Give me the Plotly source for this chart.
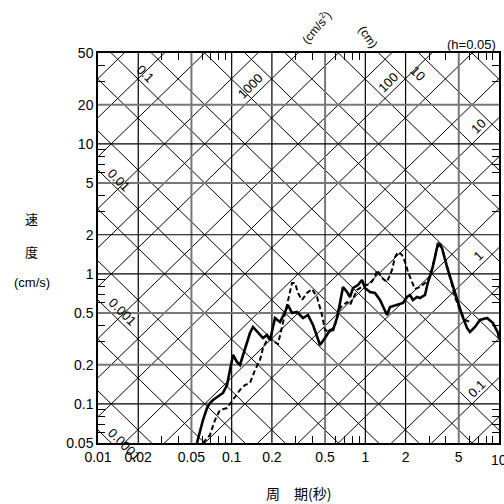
import numpy as np
import plotly.graph_objects as go

# ---- data ----
period_solid = [0.0550, 0.0579, 0.0610, 0.0654, 0.0688, 0.0725, 0.0777, 0.0861, 0.0923, 0.0972,
                0.1023, 0.1096, 0.1154, 0.1237, 0.1302, 0.1371, 0.1444, 0.1574, 0.1716, 0.1838,
                0.1936, 0.2110, 0.2299, 0.2506, 0.2639, 0.2828, 0.3082, 0.3418, 0.3725, 0.4060,
                0.4350, 0.4580, 0.4993, 0.5440, 0.5731, 0.6138, 0.6463, 0.6808, 0.7294, 0.7679,
                0.8086, 0.8814, 0.9441, 0.9942, 1.0837, 1.181, 1.287, 1.356, 1.453, 1.530,
                1.726, 1.913, 2.050, 2.158, 2.273, 2.435, 2.564, 2.795, 2.944, 3.154,
                3.321, 3.498, 3.747, 4.083, 4.450, 4.851, 5.287, 5.762, 6.067, 6.613,
                7.207, 8.134, 9.016, 9.827, 10.0]
velocity_solid = [0.050, 0.0630, 0.0751, 0.0929, 0.1016, 0.1071, 0.1129, 0.1213, 0.1397, 0.1888,
                  0.2376, 0.2100, 0.1991, 0.2506, 0.2938, 0.3509, 0.3902, 0.3571, 0.3210, 0.3386,
                  0.3100, 0.4575, 0.4264, 0.5088, 0.5760, 0.5000, 0.5088, 0.4575, 0.4826, 0.4043,
                  0.3268, 0.2836, 0.3210, 0.3700, 0.3700, 0.4575, 0.5970, 0.7924, 0.7253, 0.6640,
                  0.7786, 0.8210, 0.8971, 0.7786, 0.7253, 0.7125, 0.6295, 0.5561, 0.4826, 0.5561,
                  0.5760, 0.5970, 0.6640, 0.6880, 0.6295, 0.6640, 0.6523, 0.6880, 0.8660, 1.071,
                  1.348, 1.728, 1.581, 1.129, 0.8507, 0.6295, 0.4826, 0.3834, 0.3571, 0.3902,
                  0.4417, 0.4575, 0.4189, 0.3509, 0.3210]

period_dash = [0.0610, 0.0688, 0.0750, 0.0818, 0.0923, 0.1023, 0.1154, 0.1258, 0.1371, 0.1495,
               0.1629, 0.1716, 0.1870, 0.2038, 0.2222, 0.2380, 0.2594, 0.2828, 0.2977, 0.3135,
               0.3359, 0.3662, 0.3990, 0.4350, 0.4741, 0.4993, 0.5440, 0.5929, 0.6463, 0.7294,
               0.7679, 0.8664, 0.9605, 1.0837, 1.181, 1.222, 1.333, 1.453, 1.583, 1.667,
               1.755, 1.881, 1.981, 2.086, 2.234, 2.352, 2.564, 2.795, 3.046, 3.208,
               3.437, 3.620, 3.945, 4.300, 4.687, 5.108, 5.568, 6.067]
velocity_dash = [0.050, 0.0576, 0.0751, 0.0897, 0.0929, 0.1071, 0.1279, 0.1397, 0.1447, 0.1822,
                 0.2175, 0.2690, 0.3210, 0.3045, 0.2887, 0.3902, 0.5760, 0.8507, 0.8507, 0.7125,
                 0.6295, 0.7125, 0.7647, 0.6640, 0.4826, 0.3700, 0.3571, 0.4043, 0.5464, 0.6077,
                 0.5760, 0.7512, 0.8066, 0.8357, 0.9460, 1.071, 0.9294, 0.8660, 1.071, 1.348,
                 1.473, 1.397, 1.234, 1.034, 0.8660, 0.7647, 0.7924, 0.8507, 0.9460, 1.170,
                 1.581, 1.728, 1.325, 0.9460, 0.6640, 0.5275, 0.4417, 0.4264]

x_ticks = [0.01, 0.02, 0.05, 0.1, 0.2, 0.5, 1, 2, 5, 10]
x_ticktext = ["0.01", "0.02", "0.05", "0.1", "0.2", "0.5", "1", "2", "5", "10"]
y_ticks = [0.05, 0.1, 0.2, 0.5, 1, 2, 5, 10, 20, 50]
y_ticktext = ["0.05", "0.1", "0.2", "0.5", "1", "2", "5", "10", "20", "50"]

x_grid = [0.02, 0.05, 0.1, 0.2, 0.5, 1, 2, 5]
y_grid = [0.1, 0.2, 0.5, 1, 2, 5, 10, 20]
x_grid_gray = [0.05, 0.5, 5]
y_grid_gray = [0.2, 0.5, 5, 20]

mant = [1, 2, 5]
disp_values = [m * 10.0 ** k for k in range(-6, 4) for m in mant]      # cm
acc_values = [m * 10.0 ** k for k in range(-3, 7) for m in mant]       # cm/s^2

disp_labels = [("0.1", 0.1172, 0.9462), ("0.01", 0.0499, 0.6744), ("0.001", 0.0599, 0.3359),
               ("0.0001", 0.0648, -0.0051), ("10", 0.798, 0.9487)]
acc_labels = [("1000", 0.3815, 0.9154), ("100", 0.7232, 0.9256), ("10", 0.9476, 0.8128),
              ("1", 0.950, 0.4795), ("0.1", 0.945, 0.1385)]

minor_mult = [3, 4, 6, 7, 8, 9]
x_minor = [m * 10.0 ** k for k in range(-2, 1) for m in minor_mult]
y_minor = [m * 10.0 ** k for k in range(-2, 2) for m in minor_mult if 0.05 < m * 10.0 ** k < 50]

XR = (0.01, 10)
YR = (0.05, 50)
FONT = "Liberation Sans, Arial, sans-serif"
CJK = "Noto Sans CJK JP, Noto Sans CJK SC, sans-serif"

fig = go.Figure()

# diagonal grid: displacement lines (slope -1) and acceleration lines (slope +1)
tt = np.array([1e-4, 1e3])
for d in disp_values:
    fig.add_trace(go.Scatter(x=tt, y=2 * np.pi * d / tt, mode="lines",
                             line=dict(color="#000", width=1), hoverinfo="skip", showlegend=False))
for a in acc_values:
    fig.add_trace(go.Scatter(x=tt, y=a * tt / (2 * np.pi), mode="lines",
                             line=dict(color="#000", width=1), hoverinfo="skip", showlegend=False))

# rectangular grid
for xv in x_grid:
    gray = xv in x_grid_gray
    fig.add_trace(go.Scatter(x=[xv, xv], y=list(YR), mode="lines",
                             line=dict(color="#777" if gray else "#000", width=2 if gray else 1.2),
                             hoverinfo="skip", showlegend=False))
for yv in y_grid:
    gray = yv in y_grid_gray
    fig.add_trace(go.Scatter(x=list(XR), y=[yv, yv], mode="lines",
                             line=dict(color="#777" if gray else "#000", width=2 if gray else 1.2),
                             hoverinfo="skip", showlegend=False))

# spectra
fig.add_trace(go.Scatter(x=period_dash, y=velocity_dash, mode="lines",
                         line=dict(color="black", width=2, dash="5px,3px"), showlegend=False))
fig.add_trace(go.Scatter(x=period_solid, y=velocity_solid, mode="lines",
                         line=dict(color="black", width=2.6), showlegend=False))


def label(txt, x, y, angle=0, size=13, family=FONT, xanchor="center"):
    return dict(text=txt, x=x, y=y, xref="paper", yref="paper", showarrow=False,
                xanchor=xanchor, yanchor="middle", textangle=angle,
                font=dict(family=family, size=size, color="black"))


ann = []
for txt, x, y in disp_labels:
    ann.append(label(txt, x, y, angle=45, size=13))
for txt, x, y in acc_labels:
    ann.append(label(txt, x, y, angle=-45, size=13))
ann += [
    label("(h=0.05)", 0.9975, 1.023, size=13, xanchor="right"),
    label("(cm/s<sup>2</sup>)", 0.5436, 1.0667, angle=-50, size=12),
    label("(cm)", 0.6733, 1.041, angle=55, size=12),
    label("速", -0.1646, 0.5769, family=CJK, size=13),
    label("度", -0.1646, 0.4923, family=CJK, size=13),
    label("(cm/s)", -0.1646, 0.4128, size=13),
    label("周　期(秒)", 0.5012, -0.1282, family=CJK, size=14),
    # last x tick label, partly beyond the page edge as in the original
    label(x_ticktext[-1], 1.0, -0.0436, size=14),
]

axis_common = dict(type="log", showgrid=False, zeroline=False, showline=True, linecolor="black",
                   linewidth=1.5, mirror="allticks", ticks="inside", ticklen=0, tickcolor="black",
                   tickfont=dict(family=FONT, size=14, color="black"))

fig.update_layout(
    width=504, height=504, margin=dict(l=98, r=5, t=53, b=61, autoexpand=False),
    paper_bgcolor="white", plot_bgcolor="white",
    xaxis=dict(range=[np.log10(XR[0]), np.log10(XR[1])], tickvals=x_ticks[:-1], ticktext=x_ticktext[:-1],
               minor=dict(tickvals=x_minor, ticks="inside", ticklen=7, tickcolor="black", tickwidth=1),
               **axis_common),
    yaxis=dict(range=[np.log10(YR[0]), np.log10(YR[1])], tickvals=y_ticks, ticktext=y_ticktext,
               minor=dict(tickvals=y_minor, ticks="inside", ticklen=7, tickcolor="black", tickwidth=1),
               **axis_common),
    annotations=ann,
)

fig.write_html("out.html", config={"displayModeBar": False},
               post_script="document.body.style.margin='0';")
